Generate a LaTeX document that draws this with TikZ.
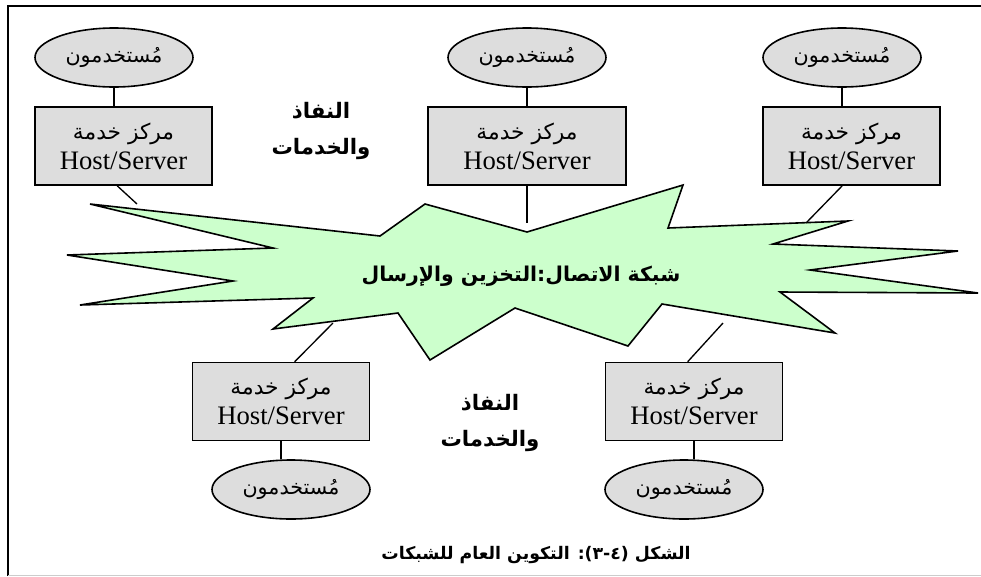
\documentclass[tikz,border=0pt]{standalone}
\usepackage{fontspec}
\setmainfont{Liberation Serif}
\newfontfamily\arabicfont[Script=Arabic]{DejaVu Sans}
\TeXXeTstate=1
\usetikzlibrary{shapes.geometric}

\newcommand{\artext}[1]{{\arabicfont\beginR #1\endR}}
\definecolor{hostgray}{HTML}{DDDDDD}
\definecolor{netgreen}{HTML}{CCFFCC}

\tikzset{
  host/.style={draw, fill=hostgray, line width=1.2pt, minimum width=132.75pt,
    minimum height=58.5pt, inner sep=0pt, align=center,
    font=\fontsize{20}{22.5}\selectfont},
  user/.style={draw, ellipse, fill=hostgray, line width=1.2pt,
    minimum width=118.5pt, minimum height=44.25pt, inner sep=0pt,
    font=\fontsize{15.5}{18}\selectfont},
  link/.style={line width=1pt},
  boldlabel/.style={font=\arabicfont\bfseries\fontsize{16}{27.5}\selectfont, align=center}
}

\begin{document}
\begin{tikzpicture}[x=0.75pt, y=-0.75pt]
  \useasboundingbox (0,0) rectangle (981,576);
  \draw[line width=1.2pt] (8,576) -- (8,6) -- (981,6);
  \draw[gray!40] (8,575) -- (981,575);

  % the network
  \draw[line width=1.2pt, fill=netgreen] (90,204) -- (380,236) -- (425,204) -- (527,232)
    -- (683,185) -- (668,228) -- (848,221) -- (773,244) -- (958,251) -- (810,270)
    -- (978,293) -- (780,292) -- (835,333) -- (662,304) -- (628,346) -- (515,308)
    -- (430,360) -- (398,313) -- (273,329) -- (313,298) -- (80,305) -- (233,281)
    -- (67,255) -- (273,248) -- cycle;
  \node[font=\arabicfont\bfseries\fontsize{15.3}{19}\selectfont] (net) at (521,276)
    {\beginR شبكة الاتصال:التخزين والإرسال\endR};

  \coordinate (s1) at (137,204);
  \coordinate (s2) at (527,223);
  \coordinate (s3) at (806,223);
  \coordinate (s4) at (333,323);
  \coordinate (s5) at (723,323);

  \foreach \n/\ux/\hx/\w in {1/114/123.5/132.75, 2/527/527/148.5, 3/842/851.5/132.75}{
    \node[user] (u\n) at (\ux,57.5) {\artext{مُستخدمون}};
    \node[host, minimum width=\w pt] (h\n) at (\hx,146)
      {{\fontsize{16.3}{22.5}\selectfont\artext{مركز خدمة}}\\Host/Server};
    \draw[link] (u\n.south) -- (u\n.south |- h\n.north);
  }
  \foreach \n/\ux/\hx in {4/291/281, 5/684/694}{
    \node[host] (h\n) at (\hx,401.5)
      {{\fontsize{16.3}{22.5}\selectfont\artext{مركز خدمة}}\\Host/Server};
    \node[user] (u\n) at (\ux,489.5) {\artext{مُستخدمون}};
    \draw[link] (h\n.south) -- (h\n.south |- u\n.north);
  }

  \draw[link] (h1.south west) ++(83,0) -- (s1);
  \draw[link] (h2.south) -- (s2);
  \draw[link] (h3.south west) ++(80,0) -- (s3);
  \draw[link] (h4.north west) ++(103,0) -- (s4);
  \draw[link] (h5.north west) ++(83,0) -- (s5);

  \node[boldlabel] (acc1) at (321,131) {\beginR النفاذ\endR\\\beginR والخدمات\endR};
  \node[boldlabel] (acc2) at (490,423) {\beginR النفاذ\endR\\\beginR والخدمات\endR};

  \node[font=\arabicfont\bfseries\fontsize{13}{16}\selectfont] (cap) at (536,555)
    {\beginR الشكل (٤-٣): التكوين العام للشبكات\endR};
\end{tikzpicture}
\end{document}
